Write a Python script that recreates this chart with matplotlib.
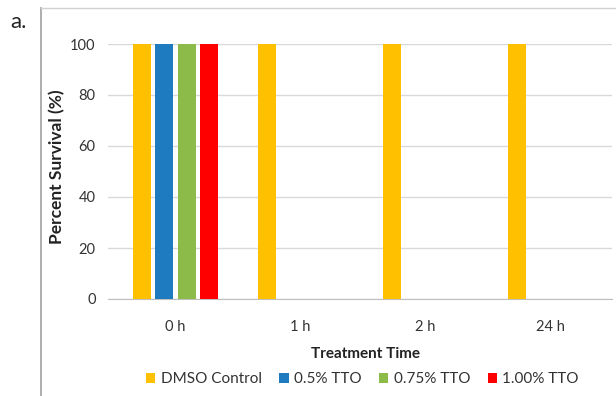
import numpy as np
import matplotlib
matplotlib.use("Agg")
import matplotlib.pyplot as plt
from matplotlib.lines import Line2D

plt.rcParams['font.family'] = ['Lato', 'DejaVu Sans']

times = ["0 h", "1 h", "2 h", "24 h"]
series_names = ["DMSO Control", "0.5% TTO", "0.75% TTO", "1.00% TTO"]
dmso = [100, 100, 100, 100]
tto_05 = [100, 0, 0, 0]
tto_075 = [100, 0, 0, 0]
tto_100 = [100, 0, 0, 0]
colors = ["#FFC000", "#1F7BC0", "#8DBB4A", "#FF0000"]

fig = plt.figure(figsize=(6.16, 3.96), dpi=100)
ax = fig.add_axes([108/616, 97/396, 504/616, 255/396])

x = np.arange(len(times))
slot = 0.179
width = 0.145
for i, (vals, name) in enumerate(zip([dmso, tto_05, tto_075, tto_100], series_names)):
    ax.bar(x + (i - 1.5) * slot, vals, width, color=colors[i], label=name, zorder=3, clip_on=False)

ax.set_xlim(-0.54, 3.49)
ax.set_ylim(0, 100)
ax.set_yticks(range(0, 101, 20))
ax.set_xticks(x)
ax.set_xticklabels(times)
ax.grid(axis='y', color='#d9d9d9', linewidth=1, zorder=0)
for s in ['top', 'right', 'left']:
    ax.spines[s].set_visible(False)
ax.spines['bottom'].set_color('#bfbfbf')
ax.tick_params(axis='both', length=0, labelsize=10.5, colors='#333333')
ax.tick_params(axis='y', pad=9)
ax.tick_params(axis='x', pad=15)

ax.set_ylabel("Percent Survival (%)", fontsize=12.5, fontweight='bold', color='#222222')
ax.yaxis.set_label_coords(-0.085, 0.52)
ax.set_xlabel("Treatment Time", fontsize=11, fontweight='bold', color='#222222')
ax.xaxis.set_label_coords(0.51, -0.19)

leg = ax.legend(loc='center', bbox_to_anchor=(0.505, -0.315), ncol=4, frameon=False,
                handlelength=0.6, handleheight=0.6, handletextpad=0.35,
                columnspacing=1.15, fontsize=11)
for t in leg.get_texts():
    t.set_color('#333333')

fig.text(10/616, 1 - 22/396, "a.", fontsize=16, va='center', ha='left', color='#222222')
fig.add_artist(Line2D([41/616, 41/616], [0, 1 - 8/396], color='#a0a0a0', linewidth=1.2))
fig.add_artist(Line2D([41/616, 1], [1 - 8/396, 1 - 8/396], color='#d0d0d0', linewidth=1))

fig.savefig("out.png", dpi=100)
